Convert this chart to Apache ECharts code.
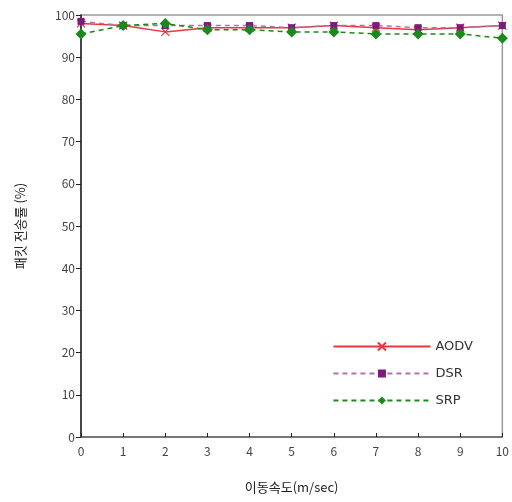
<!DOCTYPE html>
<html>
<head>
<meta charset="utf-8">
<script src="https://cdn.jsdelivr.net/npm/echarts@6/dist/echarts.min.js"></script>
<style>
  html, body { margin: 0; padding: 0; background: #fff; }
  #chart { width: 512px; height: 502px; }
</style>
</head>
<body>
<div id="chart"></div>
<script>
// 이동속도별 패킷 전송률
var speeds = ['0', '1', '2', '3', '4', '5', '6', '7', '8', '9', '10'];
var aodv = [98, 97.5, 96, 97, 97, 97, 97.5, 97, 96.5, 97, 97.5];
var dsr = [98.5, 97.5, 97.5, 97.5, 97.5, 97, 97.5, 97.5, 97, 97, 97.5];
var srp = [95.5, 97.5, 98, 96.5, 96.5, 96, 96, 95.5, 95.5, 95.5, 94.5];

var font = '"Noto Sans CJK KR", "DejaVu Sans", sans-serif';
var myChart = echarts.init(document.getElementById('chart'));

var option = {
    animation: false,
    textStyle: { fontFamily: font },
    grid: { left: 81, right: 5, top: 15, bottom: 65, show: true, borderColor: '#999', borderWidth: 1.5 },
    legend: {
        right: 34, bottom: 90,
        orient: 'vertical',
        itemWidth: 97, itemHeight: 10, itemGap: 14,
        textStyle: { fontSize: 13, color: '#333', fontFamily: '"DejaVu Sans", sans-serif' },
        data: ['AODV', 'DSR', 'SRP']
    },
    xAxis: {
        type: 'category',
        data: speeds,
        boundaryGap: false,
        name: '이동속도(m/sec)',
        nameLocation: 'middle',
        nameGap: 44,
        nameTextStyle: { fontSize: 13, color: '#222' },
        axisLine: { lineStyle: { color: '#666', width: 1.5 } },
        axisTick: { inside: true, length: 4, lineStyle: { color: '#222' } },
        axisLabel: { fontSize: 12, color: '#444', margin: 8 }
    },
    yAxis: {
        type: 'value',
        min: 0, max: 100, interval: 10,
        name: '패킷 전송률 (%)',
        nameLocation: 'middle',
        nameGap: 54,
        nameTextStyle: { fontSize: 13, color: '#222' },
        axisLine: { show: true, lineStyle: { color: '#222', width: 1.5 } },
        axisTick: { show: true, length: 5, lineStyle: { color: '#222' } },
        axisLabel: { fontSize: 12, color: '#444', margin: 6 },
        splitLine: { show: false }
    },
    series: [
        {
            name: 'AODV', type: 'line', data: aodv,
            symbol: 'path://M0,0L10,10M10,0L0,10', symbolSize: 8,
            itemStyle: { color: '#e8363a', borderColor: '#e8363a', borderWidth: 1.2 },
            lineStyle: { color: '#e8363a', width: 1.5 }
        },
        {
            name: 'DSR', type: 'line', data: dsr,
            symbol: 'rect', symbolSize: 7,
            itemStyle: { color: '#7d1a7d' },
            lineStyle: { color: '#b070b0', width: 1.5, type: [5, 4] }
        },
        {
            name: 'SRP', type: 'line', data: srp,
            symbol: 'diamond', symbolSize: 11,
            itemStyle: { color: '#1a8a1a' },
            lineStyle: { color: '#1a8a1a', width: 1.5, type: [5, 4] }
        }
    ]
};
myChart.setOption(option);
</script>
</body>
</html>
